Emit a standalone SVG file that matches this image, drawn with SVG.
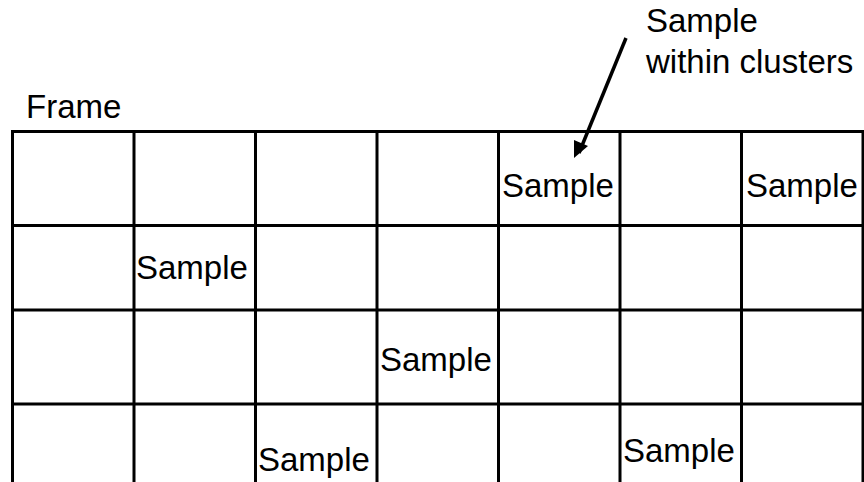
<svg xmlns="http://www.w3.org/2000/svg" width="864" height="482" viewBox="0 0 864 482">
<style>
text{font-family:"Liberation Sans",Arial,sans-serif;font-size:33px;fill:#000}
.g{stroke:#000;stroke-width:3;fill:none}
</style>
<rect width="864" height="482" fill="#fff"/>
<g id="frame">
<text x="26" y="118">Frame</text>
<path class="g" d="M12.5,482 V131.5 H863 V482 M134,131.5 V482 M255.5,131.5 V482 M377,131.5 V482 M498.5,131.5 V482 M620,131.5 V482 M741.5,131.5 V482 M12.5,225.5 H863 M12.5,310 H863 M12.5,404 H863"/>
</g>
<g id="samples">
<text x="502" y="197">Sample</text>
<text x="746" y="197">Sample</text>
<text x="136" y="279">Sample</text>
<text x="380" y="371">Sample</text>
<text x="258" y="471">Sample</text>
<text x="623" y="462">Sample</text>
</g>
<g id="label">
<text x="646" y="32">Sample</text>
<text x="646" y="73">within clusters</text>
</g>
<g id="connectors">
<line x1="626" y1="38" x2="579" y2="153" stroke="#000" stroke-width="3.5"/>
<path d="M574,158 L574,140 L588,146 z" fill="#000"/>
</g>
</svg>
